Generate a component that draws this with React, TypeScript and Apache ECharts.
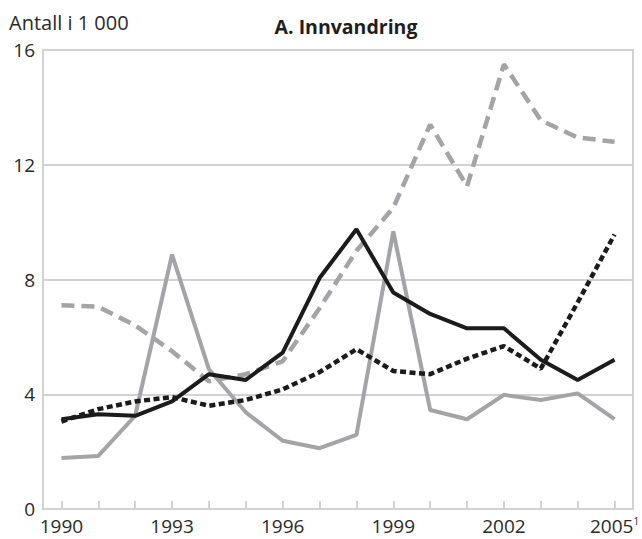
import React, { useEffect, useRef } from "react";
import * as echarts from "echarts";

const years = ["1990","1991","1992","1993","1994","1995","1996","1997","1998","1999","2000","2001","2002","2003","2004","2005"];
const grayDashed = [7.1, 7.05, 6.4, 5.5, 4.45, 4.7, 5.15, 7.0, 9.0, 10.5, 13.4, 11.25, 15.5, 13.55, 12.95, 12.8];
const blackSolid = [3.13, 3.3, 3.25, 3.75, 4.7, 4.5, 5.45, 8.05, 9.75, 7.55, 6.8, 6.3, 6.3, 5.2, 4.5, 5.2];
const graySolid = [1.78, 1.85, 3.25, 8.87, 4.87, 3.37, 2.38, 2.12, 2.58, 9.68, 3.45, 3.13, 3.98, 3.8, 4.03, 3.13];
const blackDotted = [3.05, 3.48, 3.75, 3.9, 3.6, 3.8, 4.17, 4.77, 5.57, 4.81, 4.7, 5.24, 5.68, 4.89, 7.2, 9.57];
const yTicks = [0, 4, 8, 12, 16];

const FONT = "'Open Sans', sans-serif";
const GRID = "#d2d2d2";
const GRAY = "#a3a4a7";
const BLACK = "#1b1b1b";
const TEXT = "#2a2a2a";

export default function App() {
  const ref = useRef<HTMLDivElement>(null);
  useEffect(() => {
    if (!ref.current) return;
    const chart = echarts.init(ref.current, null, { renderer: "svg" });
    chart.setOption({
      animation: false,
      backgroundColor: "#ffffff",
      title: [
        {
          text: "A. Innvandring",
          left: 341,
          top: 11,
          textAlign: "center",
          textStyle: { fontFamily: FONT, fontWeight: "bold", fontSize: 19.5, color: "#1e1e1e" },
        },
        {
          text: "Antall i 1 000",
          left: 4,
          top: 7,
          textStyle: { fontFamily: FONT, fontWeight: "normal", fontSize: 20, color: TEXT },
        },
      ],
      grid: {
        left: 43,
        right: 5,
        top: 50,
        bottom: 30,
        show: true,
        borderColor: GRID,
        borderWidth: 2,
      },
      xAxis: {
        type: "category",
        data: years,
        boundaryGap: true,
        axisLine: { show: true, lineStyle: { color: GRID, width: 2 } },
        axisTick: {
          show: true,
          alignWithLabel: true,
          interval: 0,
          inside: true,
          length: 8,
          lineStyle: { color: GRID, width: 2 },
        },
        axisLabel: {
          interval: 2,
          margin: 7,
          fontFamily: FONT,
          fontSize: 19,
          color: TEXT,
          formatter: (v: string) => (v === "2005" ? "{a|2005}{s|1}" : "{a|" + v + "}"),
          rich: {
            a: { fontFamily: FONT, fontSize: 19, color: TEXT },
            s: { fontFamily: FONT, fontSize: 10, color: TEXT, verticalAlign: "top", padding: [0, 0, 10, 0] },
          },
        },
        splitLine: { show: false },
      },
      yAxis: {
        type: "value",
        min: yTicks[0],
        max: yTicks[yTicks.length - 1],
        interval: 4,
        axisLine: { show: true, lineStyle: { color: GRID, width: 2 } },
        axisTick: { show: false },
        axisLabel: { margin: 8, fontFamily: FONT, fontSize: 19, color: TEXT },
        splitLine: { show: true, lineStyle: { color: GRID, width: 2 } },
      },
      series: [
        {
          type: "line",
          data: grayDashed,
          symbol: "none",
          lineStyle: { color: GRAY, width: 4.5, type: [13, 7] },
        },
        {
          type: "line",
          data: graySolid,
          symbol: "none",
          lineStyle: { color: GRAY, width: 4 },
        },
        {
          type: "line",
          data: blackSolid,
          symbol: "none",
          lineStyle: { color: BLACK, width: 4 },
        },
        {
          type: "line",
          data: blackDotted,
          symbol: "none",
          lineStyle: { color: BLACK, width: 4.5, type: [6, 3.5] },
        },
      ],
    });
    return () => chart.dispose();
  }, []);
  return <div ref={ref} style={{ position: "fixed", left: 0, top: 0, width: 642, height: 539 }} />;
}
